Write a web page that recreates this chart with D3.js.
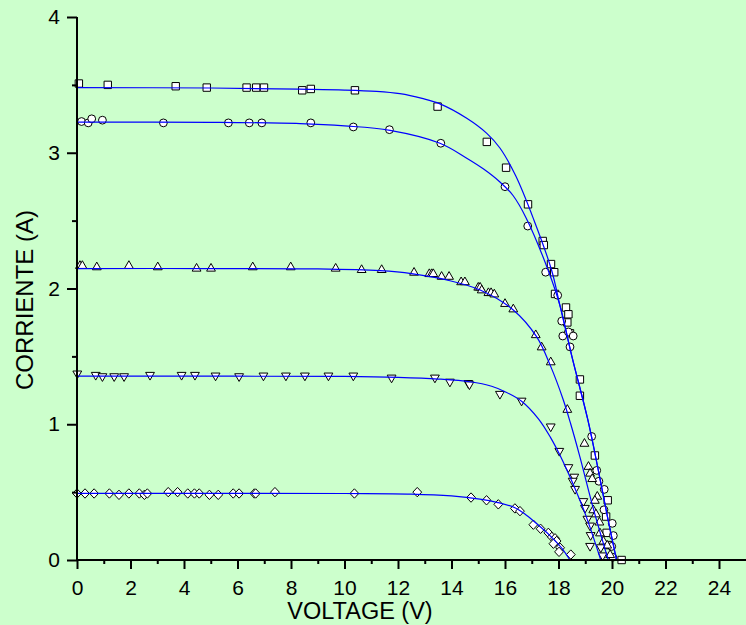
<!DOCTYPE html>
<html><head><meta charset="utf-8">
<script src="https://cdn.jsdelivr.net/npm/d3@7"></script>
<style>
html,body{margin:0;padding:0;background:#ccffcc;}
svg{display:block;}
text{font-family:"Liberation Sans",Arial,sans-serif;fill:#000;}
</style></head>
<body>
<svg id="chart" width="746" height="625"></svg>
<script>
// ---- data (Voltage V, Current A) ----
const xTickValues = [0,2,4,6,8,10,12,14,16,18,20,22,24];
const yTickValues = [0,1,2,3,4];
const xTitle = "VOLTAGE (V)";
const yTitle = "CORRIENTE (A)";

const squaresPts = [[0.07,3.51],[1.15,3.50],[3.69,3.49],[4.85,3.48],[6.34,3.48],[6.70,3.48],[6.99,3.48],[8.42,3.46],[8.74,3.47],[10.39,3.46],[13.48,3.34],[15.32,3.08],[16.04,2.89],[16.86,2.62],[17.41,2.35],[17.45,2.32],[17.72,2.18],[17.84,2.12],[17.87,1.96],[18.28,1.86],[18.37,1.81],[18.33,1.75],[18.43,1.67],[18.8,1.33],[18.8,1.21],[19.36,0.77],[19.84,0.44],[19.78,0.32],[19.8,0.2],[19.86,0.11],[20.36,0]];
const circlesPts = [[0.17,3.23],[0.42,3.22],[0.55,3.25],[0.95,3.24],[3.23,3.22],[5.66,3.22],[6.44,3.22],[6.91,3.22],[8.74,3.22],[10.33,3.19],[11.68,3.17],[13.6,3.07],[16.0,2.75],[16.85,2.46],[17.52,2.12],[17.97,1.95],[18.12,1.76],[18.16,1.65],[18.37,1.68],[18.55,1.65],[18.43,1.57],[19.24,0.91],[19.43,0.66],[19.51,0.58],[19.71,0.52],[19.7,0.37],[20.01,0.27],[20.05,0.18],[19.99,0.10],[20.03,0.02]];
const trianglesUpPts = [[0.11,2.17],[0.2,2.17],[0.74,2.16],[1.94,2.17],[3.02,2.16],[4.47,2.15],[5.01,2.15],[6.57,2.16],[7.99,2.16],[9.67,2.15],[10.64,2.14],[11.39,2.14],[12.6,2.12],[13.17,2.11],[13.26,2.11],[13.32,2.11],[13.63,2.09],[13.91,2.09],[14.36,2.05],[14.5,2.05],[15.0,2.01],[15.07,2.01],[15.13,1.99],[15.38,1.97],[15.48,1.97],[15.6,1.96],[16.0,1.89],[16.31,1.85],[17.15,1.66],[17.37,1.57],[17.71,1.46],[18.33,1.11],[18.97,0.86],[19.12,0.69],[19.18,0.64],[19.26,0.60],[19.45,0.47],[19.36,0.44],[19.3,0.37],[19.4,0.34],[19.53,0.28],[19.55,0.20],[19.68,0.14],[19.82,0.11],[19.93,0.04]];
const trianglesDownPts = [[0.01,1.37],[0.7,1.36],[0.95,1.35],[1.39,1.35],[1.76,1.35],[2.73,1.36],[3.91,1.36],[4.41,1.36],[5.18,1.355],[6.06,1.35],[6.97,1.355],[7.81,1.355],[8.52,1.355],[9.4,1.355],[10.33,1.355],[11.76,1.34],[13.38,1.34],[13.94,1.31],[14.63,1.30],[14.67,1.29],[15.81,1.22],[16.62,1.17],[17.71,0.98],[18.03,0.80],[18.37,0.68],[18.59,0.61],[18.53,0.58],[18.62,0.52],[18.93,0.43],[18.99,0.38],[19.08,0.30],[19.18,0.25],[19.2,0.18],[19.18,0.10],[19.58,0.09],[19.65,0.03]];
const diamondsPts = [[0.0,0.49],[0.3,0.49],[0.64,0.49],[1.21,0.49],[1.57,0.48],[1.94,0.49],[2.33,0.49],[2.52,0.48],[2.63,0.49],[3.41,0.50],[3.76,0.50],[4.14,0.49],[4.39,0.49],[4.57,0.49],[4.95,0.48],[5.28,0.48],[5.84,0.49],[6.06,0.49],[6.63,0.49],[6.68,0.49],[7.4,0.50],[10.37,0.49],[12.72,0.50],[14.73,0.46],[15.31,0.44],[15.75,0.41],[16.37,0.38],[16.56,0.36],[17.06,0.26],[17.33,0.23],[17.62,0.20],[17.75,0.17],[17.87,0.16],[17.93,0.14],[17.81,0.12],[18.06,0.09],[18.02,0.06],[18.46,0.04]];

const squaresFit = [[0,3.48],[5,3.477],[8.3,3.468],[10,3.462],[11.2,3.452],[12.07,3.435],[12.9,3.40],[13.57,3.36],[14.57,3.254],[15.32,3.143],[15.81,3.035],[16.4,2.83],[17.08,2.505],[17.74,2.136],[18.06,1.87],[18.5,1.5],[19.1,1.03],[19.5,0.65],[19.85,0.3],[20.17,0]];
const circlesFit = [[0,3.225],[5,3.224],[8.34,3.215],[10,3.198],[11.7,3.165],[13.57,3.07],[14.57,2.96],[15.2,2.88],[15.81,2.785],[16.3,2.685],[16.79,2.52],[17.61,2.136],[18.06,1.87],[18.5,1.5],[19.1,1.03],[19.5,0.65],[19.85,0.3],[20.17,0]];
const trianglesUpFit = [[0,2.147],[5,2.147],[9,2.144],[11.33,2.131],[12.5,2.11],[13.82,2.063],[15.07,1.989],[16.31,1.842],[17.18,1.645],[17.7,1.43],[18.18,1.179],[18.46,1.0],[18.8,0.76],[19.3,0.38],[19.86,0]];
const trianglesDownFit = [[0,1.355],[6,1.354],[10,1.352],[12,1.345],[13.5,1.333],[14.69,1.313],[15.5,1.28],[16.0,1.24],[16.62,1.17],[17.25,1.04],[17.71,0.9],[18.06,0.77],[18.5,0.58],[19.0,0.34],[19.58,0]];
const diamondsFit = [[0,0.491],[10,0.49],[12.5,0.486],[14,0.472],[15.06,0.449],[15.7,0.425],[16.37,0.385],[16.8,0.33],[17.2,0.265],[17.68,0.18],[18.12,0.088],[18.43,0]];

// ---- chart ----
const svg = d3.select("#chart");
svg.append("rect").attr("width",746).attr("height",625).attr("fill","#ccffcc");

const x = d3.scaleLinear().domain([0,25]).range([77,745.75]);
const y = d3.scaleLinear().domain([0,4]).range([560,17]);

const line = d3.line().x(d=>x(d[0])).y(d=>y(d[1])).curve(d3.curveCatmullRom.alpha(0.5));

function marker(type){
  const s = 3.7;
  if(type==="square") return `M${-s},${-s}h${2*s}v${2*s}h${-2*s}Z`;
  if(type==="triUp") return `M0,${-4.7}L${4.4},${3}L${-4.4},${3}Z`;
  if(type==="triDown") return `M0,${4.7}L${4.4},${-3}L${-4.4},${-3}Z`;
  if(type==="diamond") return `M0,${-4.7}L${4.4},0L0,${4.7}L${-4.4},0Z`;
  return null;
}
const seriesList = [
  {pts:squaresPts, fit:squaresFit, type:"square"},
  {pts:circlesPts, fit:circlesFit, type:"circle"},
  {pts:trianglesUpPts, fit:trianglesUpFit, type:"triUp"},
  {pts:trianglesDownPts, fit:trianglesDownFit, type:"triDown"},
  {pts:diamondsPts, fit:diamondsFit, type:"diamond"}
];

const gm = svg.append("g");
seriesList.forEach(s=>{
  const g = gm.append("g");
  if(s.type==="circle"){
    g.selectAll("circle").data(s.pts).join("circle")
      .attr("cx",d=>x(d[0])).attr("cy",d=>y(d[1])).attr("r",3.9)
      .attr("fill","#fff").attr("stroke","#000").attr("stroke-width",1);
  } else {
    g.selectAll("path").data(s.pts).join("path")
      .attr("transform",d=>`translate(${x(d[0])},${y(d[1])})`)
      .attr("d",marker(s.type))
      .attr("fill","#fff").attr("stroke","#000").attr("stroke-width",1);
  }
});
const gl = svg.append("g");
seriesList.forEach(s=>{
  gl.append("path").datum(s.fit).attr("d",line)
    .attr("fill","none").attr("stroke","#0000ff").attr("stroke-width",1.2);
});

// axes
const xAxisG = svg.append("g").attr("transform","translate(0,560)");
xAxisG.call(d3.axisBottom(x).tickValues(d3.range(1,25,2)).tickSize(4).tickFormat(""))
  .call(g=>g.select(".domain").remove());
xAxisG.append("g").call(d3.axisBottom(x).tickValues(xTickValues).tickSize(9).tickPadding(11).tickSizeOuter(0).tickFormat(d3.format("d")))
  .call(g=>g.select(".domain").remove());
xAxisG.append("line").attr("x1",x(0)-1).attr("x2",746).attr("stroke","#000").attr("stroke-width",2);

const yAxisG = svg.append("g").attr("transform","translate(77,0)");
yAxisG.call(d3.axisLeft(y).tickValues(d3.range(0.5,4,1)).tickSize(5).tickFormat(""))
  .call(g=>g.select(".domain").remove());
yAxisG.append("g").call(d3.axisLeft(y).tickValues(yTickValues).tickSize(10).tickPadding(7).tickSizeOuter(0).tickFormat(d3.format("d")))
  .call(g=>g.select(".domain").remove());
yAxisG.append("line").attr("y1",y(4)).attr("y2",y(0)+1).attr("stroke","#000").attr("stroke-width",2);

svg.selectAll(".tick line").attr("stroke","#000").attr("stroke-width",2);
svg.selectAll(".tick text").attr("font-size",21).attr("font-family","Liberation Sans, Arial, sans-serif");

svg.append("text").attr("x",360).attr("y",619).attr("text-anchor","middle")
  .attr("font-size",23.5).text(xTitle);
svg.append("text").attr("transform","translate(33,300) rotate(-90)").attr("text-anchor","middle")
  .attr("font-size",24).text(yTitle);
</script>
</body></html>
